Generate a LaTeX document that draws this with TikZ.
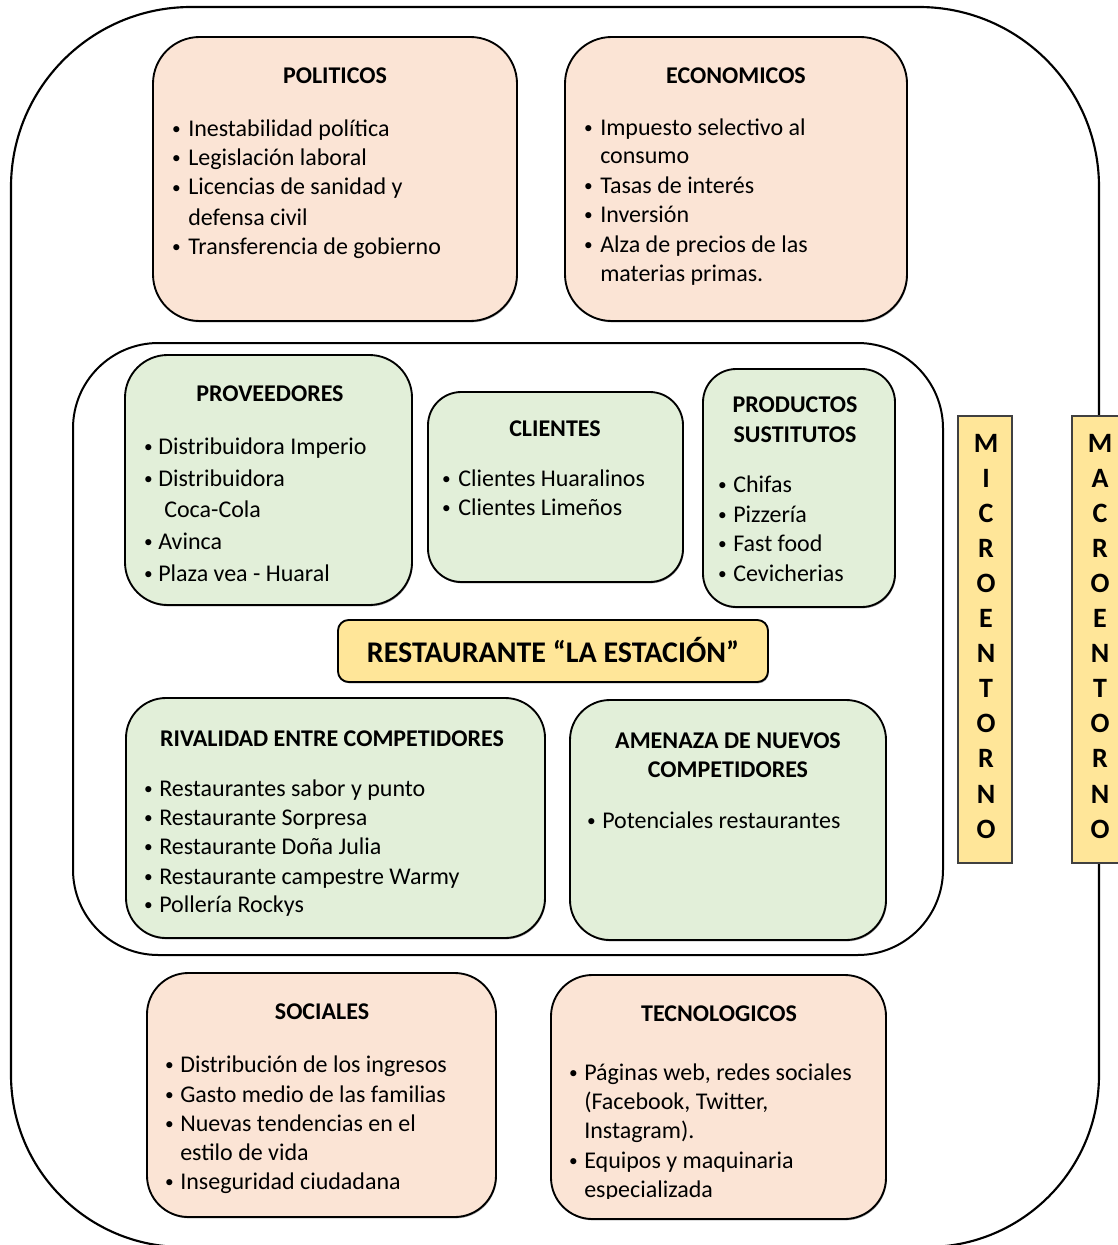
\documentclass[tikz,border=0pt]{standalone}
\usepackage{fontspec}
\setmainfont{Carlito}
\usetikzlibrary{fit,shadows}

\definecolor{peach}{HTML}{FBE4D5}
\definecolor{sage}{HTML}{E2EFD9}
\definecolor{gold}{HTML}{FFE699}

\newcommand\bodyfont{\fontsize{18}{22}\selectfont}

\tikzset{
  boxbase/.style={draw=black, line width=1.4pt, inner sep=0pt,
    drop shadow={shadow xshift=0.6pt, shadow yshift=-1.0pt, opacity=0.55, fill=black!70}},
  macrobox/.style={boxbase, fill=peach},
  microbox/.style={boxbase, fill=sage},
  txt/.style={anchor=base west, inner sep=0pt, font=\bodyfont},
  dot/.style={anchor=base, inner sep=0pt, font=\fontsize{13}{16}\selectfont},
  ttl/.style={anchor=base, inner sep=0pt, font=\bodyfont\bfseries},
  barfill/.style={draw=black!75, line width=0.8pt, fill=gold},
  barletter/.style={anchor=base, inner sep=0pt, font=\fontsize{21}{24}\selectfont\bfseries},
}

% Bullet list: #1 name prefix, #2 bullet x, #3 text x, #4 entries y/text/bullet(1|0)
\newcommand\bulletlist[4]{%
  \foreach \yv/\tx/\bu [count=\i] in {#4} {
    \node[txt] (#1-\i) at (#3,\yv+8) {\tx};
    \ifnum\bu=1 \node[dot] (#1-b\i) at (#2+3.5,\yv+6) {•};\fi
  }%
}

\begin{document}
\begin{tikzpicture}[x=0.75pt, y=-0.75pt]
\useasboundingbox (0,0) rectangle (1117,1245);

% macro-environment frame
\draw[line width=1.6pt] (11,620) [rounded corners=135pt] -- (11,7) -- (1099,7) -- (1099,620)
  [rounded corners=129pt] -- (1099,1247) -- (11,1247) -- cycle;

% micro-environment frame
\draw[line width=1.5pt, rounded corners=64pt] (73,343) rectangle (943,955);

% ---------- macro factors ----------
\node[macrobox, rounded corners=35pt, fit={(153,37) (517,321)}] (pol) {};
\node[ttl] (pol-t) at (335,84) {POLITICOS};
\bulletlist{pol}{173}{188}{129/Inestabilidad política/1, 158/Legislación laboral/1,
  187/Licencias de sanidad y/1, 217/defensa civil/0, 246/Transferencia de gobierno/1}

\node[macrobox, rounded corners=35pt, fit={(565,37) (907,321)}] (eco) {};
\node[ttl] (eco-t) at (736,84) {ECONOMICOS};
\bulletlist{eco}{585}{600}{128/Impuesto selectivo al/1, 156/consumo/0, 185/Tasas de interés/1,
  214/Inversión/1, 244/Alza de precios de las/1, 273/materias primas./0}

\node[macrobox, rounded corners=31pt, fit={(147,973) (496,1217)}] (soc) {};
\node[ttl] (soc-t) at (322,1019) {SOCIALES};
\bulletlist{soc}{166}{180}{1064/Distribución de los ingresos/1, 1094/Gasto medio de las familias/1,
  1123/Nuevas tendencias en el/1, 1152/estilo de vida/0, 1181/Inseguridad ciudadana/1}

\node[macrobox, rounded corners=31pt, fit={(551,975) (886,1219)}] (tec) {};
\node[ttl] (tec-t) at (719,1021) {TECNOLOGICOS};
\begin{scope}
  \clip (551,975) rectangle (886,1198.5);
  \bulletlist{tec}{570}{584}{1072/{Páginas web, redes sociales}/1, 1101/{(Facebook, Twitter,}/0,
    1130/Instagram)./0, 1160/Equipos y maquinaria/1, 1189/especializada/0}
\end{scope}

% ---------- micro factors ----------
\node[microbox, rounded corners=32pt, fit={(125,355) (412,605)}] (prov) {};
\node[ttl] (prov-t) at (270,401) {PROVEEDORES};
\bulletlist{prov}{145}{158}{446/Distribuidora Imperio/1, 478/Distribuidora/1,
  509/{\hspace{4.5pt}Coca-Cola}/0, 541/Avinca/1, 573/Plaza vea - Huaral/1}

\node[microbox, rounded corners=25pt, fit={(428,392) (683,582)}] (cli) {};
\node[ttl] (cli-t) at (555,436) {CLIENTES};
\bulletlist{cli}{443}{458}{478/Clientes Huaralinos/1, 507/Clientes Limeños/1}

\node[microbox, rounded corners=25pt, fit={(703,369) (895,607)}] (sus) {};
\node[ttl] (sus-t1) at (795,412) {PRODUCTOS};
\node[ttl] (sus-t2) at (795,442) {SUSTITUTOS};
\bulletlist{sus}{719}{733}{484/Chifas/1, 514/Pizzería/1, 543/Fast food/1, 573/Cevicherias/1}

\node[microbox, rounded corners=30pt, fit={(126,698) (545,938)}] (riv) {};
\node[ttl] (riv-t) at (332,746) {RIVALIDAD ENTRE COMPETIDORES};
\bulletlist{riv}{145}{159}{788/Restaurantes sabor y punto/1, 817/Restaurante Sorpresa/1,
  846/Restaurante Doña Julia/1, 876/Restaurante campestre Warmy/1, 904/Pollería Rockys/1}

\node[microbox, rounded corners=30pt, fit={(570,700) (886,940)}] (ame) {};
\node[ttl] (ame-t1) at (728,748) {AMENAZA DE NUEVOS};
\node[ttl] (ame-t2) at (728,777) {COMPETIDORES};
\bulletlist{ame}{588}{602}{820/Potenciales restaurantes/1}

% ---------- company ----------
\node[boxbase, fill=gold, rounded corners=8pt, fit={(338,620) (768,682)}] (rest) {};
\node[anchor=base, inner sep=0pt, font=\fontsize{22.5}{26}\selectfont\bfseries]
  (rest-t) at (553,662) {RESTAURANTE “LA ESTACIÓN”};

% ---------- side labels ----------
\draw[barfill] (958,416) rectangle (1012,863);
\foreach \ch [count=\i from 0] in {M,I,C,R,O,E,N,T,O,R,N,O}
  \node[barletter] (mi-\i) at (986,452+35.1*\i) {\ch};

\draw[barfill] (1072,416) rectangle (1135,863);
\foreach \ch [count=\i from 0] in {M,A,C,R,O,E,N,T,O,R,N,O}
  \node[barletter] (ma-\i) at (1100,452+35.1*\i) {\ch};

\end{tikzpicture}
\end{document}
